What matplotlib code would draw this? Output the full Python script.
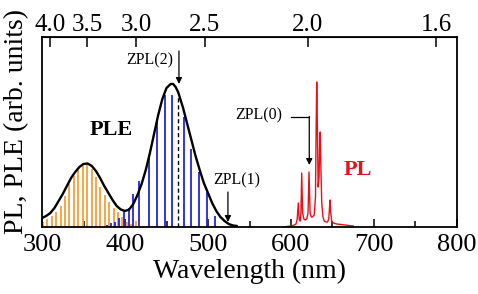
import matplotlib
matplotlib.use("Agg")
import matplotlib.pyplot as plt

plt.rcParams['font.family'] = ['Liberation Serif', 'DejaVu Serif']
plt.rcParams['mathtext.fontset'] = 'stix'

# PLE envelope (wavelength nm, intensity arb.)
ple_wl = [300, 305, 310, 315, 320, 325, 330, 335, 340, 345, 350, 355, 360, 365,
          370, 375, 380, 385, 390, 395, 400, 405, 410, 415, 420, 425, 430, 435,
          440, 445, 450, 455, 458, 461, 464, 467, 470, 475, 480, 485, 490, 495,
          500, 505, 510, 515, 520, 525, 530, 535]
ple_int = [9, 11, 14, 19, 26, 33, 41, 49, 55, 60, 63, 63.5, 61, 56,
           49, 41, 34, 27, 21, 17.5, 16, 17.5, 23, 32, 43, 57, 74, 93,
           112, 128, 139, 143, 143, 140, 135, 127, 119, 103, 87, 71, 57, 44,
           34, 24, 16, 10, 6, 3, 1.5, 1]

# orange (first band) lines
orange_wl = [301.6, 306.4, 311.7, 316.9, 322.5, 327.7, 332.9, 338.6, 343.7, 349.0,
             354.6, 359.9, 365.1, 370.4, 375.7, 381.0, 386.3, 391.6, 396.9,
             402.2, 407.5, 412.8]
orange_int = [5, 8, 11, 15, 21, 31, 43, 51, 57, 61,
              62, 58, 50, 40, 32, 25, 19, 15, 10,
              5, 3, 6]

# blue (second band) lines
blue_wl = [378, 383, 388, 393, 399, 405, 410, 417, 429, 439, 448, 457,
           471, 480, 489.5, 498.5, 509]
blue_int = [2, 4, 5, 9, 16, 19, 33, 46, 72, 108, 132, 132,
            110, 78, 55, 35, 11]

# ZPL(2) dashed marker
zpl2_wl = 464
zpl2_top = 130

# PL spectrum
pl_wl = [590, 595, 600, 604, 606, 607.5, 608.8, 610, 611.3, 612, 612.9, 614,
         615.5, 617, 619, 620.5, 621.7, 623, 624.5, 626, 628, 629.5, 630.3,
         631, 631.8, 632.7, 633.8, 634.5, 635.2, 636, 637, 638.5, 640, 642,
         644, 645.5, 646.3, 647, 647.8, 649, 651, 655, 660, 665, 670, 675]
pl_int = [0, 0.5, 1, 2, 3, 8, 24, 7, 6, 15, 54, 14,
          8, 7, 8, 14, 55, 14, 10, 10, 12, 30, 100,
          145, 100, 40, 50, 80, 95, 60, 25, 10, 6, 5,
          5, 8, 18, 27, 15, 6, 4, 3, 2.5, 2, 1.5, 1]

x_ticks = [300, 400, 500, 600, 700, 800]
x_minor = [350, 450, 550, 650, 750]
e_ticks = [4.0, 3.5, 3.0, 2.5, 2.0, 1.6]

fig = plt.figure(figsize=(4.78, 2.94), dpi=100)
ax = fig.add_axes([42/478, 1-227/294, (457-42)/478, (227-37)/294])

ax.vlines(orange_wl, 0, orange_int, colors='#F5A547', lw=1.4)
ax.vlines(blue_wl, 0, blue_int, colors='#2424DC', lw=1.3)
ax.plot(ple_wl, ple_int, color='black', lw=1.7, solid_capstyle='round')
ax.vlines([zpl2_wl], 0, [zpl2_top], colors='black', lw=1.0, linestyles=(0, (3, 2)))
ax.plot(pl_wl, pl_int, color='#E8101A', lw=1.0)

ax.set_xlim(300, 800)
ax.set_ylim(0, 190)
ax.set_yticks([])
ax.set_xticks(x_ticks)
ax.set_xticks(x_minor, minor=True)
ax.tick_params(axis='x', which='major', direction='in', length=6, width=1.1,
               labelsize=19, pad=5)
ax.tick_params(axis='x', which='minor', direction='in', length=4, width=1.1)
for s in ax.spines.values():
    s.set_linewidth(1.3)

ax.set_xlabel('Wavelength (nm)', fontsize=20, labelpad=2)
ax.set_ylabel('PL, PLE (arb. units)', fontsize=20)
ax.yaxis.set_label_coords(-0.03, 0.555)

sec = ax.secondary_xaxis('top', functions=(lambda x: 1240.0/x, lambda e: 1240.0/e))
sec.set_xticks(e_ticks)
sec.set_xticklabels(['%.1f' % e for e in e_ticks])
sec.tick_params(axis='x', direction='in', length=7, width=1.1, labelsize=18, pad=1)
sec.minorticks_off()

# text labels
ax.text(384, 97, 'PLE', fontsize=16, fontweight='bold', ha='center', va='center')
ax.text(680, 57, 'PL', fontsize=16, fontweight='bold', color='#E8101A',
        ha='center', va='center')

arrow = dict(arrowstyle='-|>', color='black', lw=0.9, mutation_scale=9,
             shrinkA=0, shrinkB=0)
ax.annotate('', xy=(465, 143), xytext=(465, 176), arrowprops=arrow)
ax.text(458, 167, 'ZPL(2)', fontsize=11.5, ha='right', va='center')

ax.annotate('', xy=(524, 5), xytext=(524, 35), arrowprops=arrow)
ax.text(506, 47, 'ZPL(1)', fontsize=11.5, ha='left', va='center')

ax.plot([600, 622], [110, 110], color='black', lw=0.9)
ax.annotate('', xy=(622, 62), xytext=(622, 110.5), arrowprops=arrow)
ax.text(590, 112, 'ZPL(0)', fontsize=11.5, ha='right', va='center')

fig.savefig('out.png', dpi=100)
